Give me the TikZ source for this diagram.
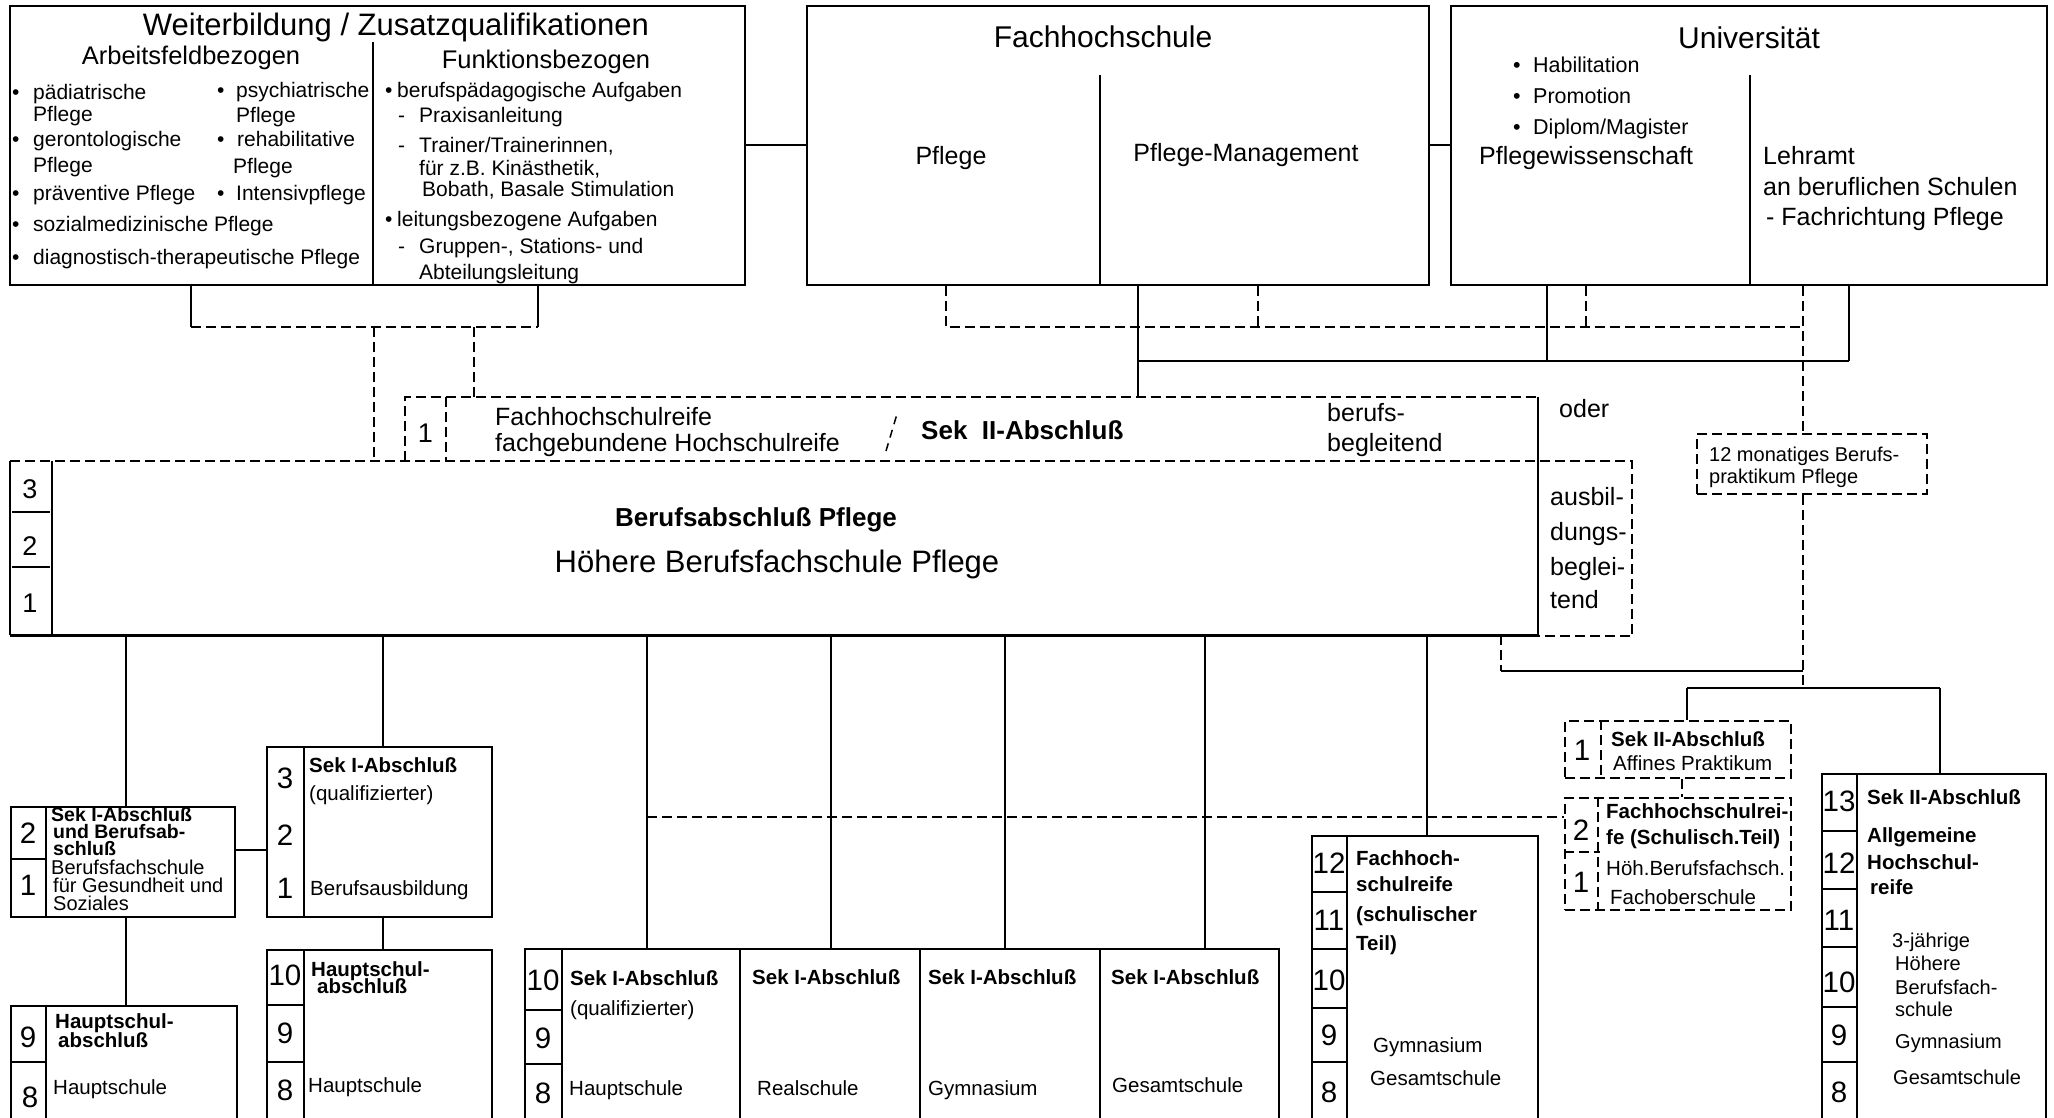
\documentclass[tikz,border=0pt]{standalone}
\usepackage{fontspec}
\setmainfont{Liberation Sans}
\usetikzlibrary{calc}
\newcommand\fs[1]{\fontsize{#1}{#1}\selectfont}
\newcommand\bul[1]{\makebox[#1][l]{•}}
\begin{document}
\begin{tikzpicture}[x=1pt,y=-1pt,
  ln/.style={line width=2pt},
  dln/.style={line width=2pt, dash pattern=on 10pt off 5pt},
  bx/.style={draw, line width=2pt, inner sep=0pt, anchor=north west},
  dbx/.style={bx, dash pattern=on 10pt off 5pt},
  area/.style={inner sep=0pt, anchor=north west},
  tw/.style={inner sep=0pt, anchor=base west, font=\fs{#1}, yshift={-0.358*#1}},
  bw/.style={inner sep=0pt, anchor=base west, font=\bfseries\fs{#1}, yshift={-0.358*#1}},
  tc/.style={inner sep=0pt, anchor=base, font=\fs{#1}, yshift={-0.358*#1}},
  bc/.style={inner sep=0pt, anchor=base, font=\bfseries\fs{#1}, yshift={-0.358*#1}},
  it/.style={tw=21},
  big/.style={tw=25},
  lt/.style={tw=20.5},
  lb/.style={bw=20.5},
  yr/.style={tc=29.5},
  yrs/.style={tc=27}]
\useasboundingbox (0,0) rectangle (2054,1118);
\clip (0,0) rectangle (2054,1118);
\fill[white] (0,0) rectangle (2054,1118);

% ---------- top boxes
\node[bx, minimum width=735pt, minimum height=279pt] (wb) at (9,5) {};
\node[bx, minimum width=622pt, minimum height=279pt] (fh) at (806,5) {};
\node[bx, minimum width=596pt, minimum height=279pt] (uni) at (1450,5) {};
\draw[ln] (373,42) -- (373,284);
\draw[ln] (1100,75) -- (1100,284);
\draw[ln] (1750,75) -- (1750,284);

\node[tc=31] (wbT) at (396,24) {Weiterbildung / Zusatzqualifikationen};
\node[tc=25.5] (wbA) at (191,55) {Arbeitsfeldbezogen};
\node[tc=25.5] (wbF) at (546,59) {Funktionsbezogen};

\node[it] (a1) at (12,92) {\bul{21pt}pädiatrische};
\node[it] (a1b) at (33,114) {Pflege};
\node[it] (a2) at (12,139) {\bul{21pt}gerontologische};
\node[it] (a2b) at (33,165) {Pflege};
\node[it] (a3) at (12,193) {\bul{21pt}präventive Pflege};
\node[it] (a4) at (12,224) {\bul{21pt}sozialmedizinische Pflege};
\node[it] (a5) at (12,257) {\bul{21pt}diagnostisch-therapeutische Pflege};
\node[it] (b1) at (217,90) {\bul{19pt}psychiatrische};
\node[it] (b1b) at (236,115) {Pflege};
\node[it] (b2) at (217,139) {\bul{20pt}rehabilitative};
\node[it] (b2b) at (233,166) {Pflege};
\node[it] (b3) at (217,193) {\bul{19pt}Intensivpflege};

\node[it] (c1) at (385,90) {\bul{12pt}berufspädagogische Aufgaben};
\node[it] (c2) at (398,115) {\makebox[21pt][l]{-}Praxisanleitung};
\node[it] (c3) at (398,145) {\makebox[21pt][l]{-}Trainer/Trainerinnen,};
\node[it] (c4) at (419,168) {für z.B. Kinästhetik,};
\node[it] (c5) at (422,189) {Bobath, Basale Stimulation};
\node[it] (c6) at (385,219) {\bul{12pt}leitungsbezogene Aufgaben};
\node[it] (c7) at (398,246) {\makebox[21pt][l]{-}Gruppen-, Stations- und};
\node[it] (c8) at (419,272) {Abteilungsleitung};

\node[tc=30] (fhT) at (1103,37) {Fachhochschule};
\node[tc=25] (fhP) at (951,156) {Pflege};
\node[tc=25] (fhM) at (1246,153) {Pflege-Management};

\node[tc=30] (uniT) at (1749,38) {Universität};
\node[tw=21.5] (u1) at (1513,65) {\bul{20pt}Habilitation};
\node[tw=21.5] (u2) at (1513,96) {\bul{20pt}Promotion};
\node[tw=21.5] (u3) at (1513,127) {\bul{20pt}Diplom/Magister};
\node[big] (u4) at (1479,156) {Pflegewissenschaft};
\node[big] (u5) at (1763,156) {Lehramt};
\node[big] (u6) at (1763,187) {an beruflichen Schulen};
\node[big] (u7) at (1766,217) {- Fachrichtung Pflege};

% ---------- Sek II box
\node[area, minimum width=1133pt, minimum height=64pt] (s2) at (405,397) {};
\draw[dln] (s2.south west) -- (s2.north west) -- (s2.north east);
\draw[dln] (446,397) -- (446,461);
\node[yrs] (s2n) at (425.5,433) {1};
\node[big] (s2a) at (495,417) {Fachhochschulreife};
\node[big] (s2b) at (495,443) {fachgebundene Hochschulreife};
\draw[line width=1.5pt, dash pattern=on 8pt off 6pt] (886,451) -- (897,414);
\node[bw=26] (s2c) at (921,430) {Sek\ \ II-Abschluß};
\node[big] (s2d) at (1327,413) {berufs-};
\node[big] (s2e) at (1327,443) {begleitend};
\node[big] (oder) at (1559,409) {oder};

% ---------- main box
\node[area, minimum width=1528pt, minimum height=174pt] (mb) at (10,461) {};
\node[area, minimum width=94pt, minimum height=175pt] (ad) at (1538,461) {};
\draw[dln] (mb.north west) -- (ad.north east) -- (ad.south east) -- (ad.south west);
\draw[ln] (mb.north west) -- (mb.south west);
\draw[line width=3pt] (mb.south west) -- (mb.south east);
\draw[ln] (s2.north east) -- (mb.south east);
\draw[ln] (52,461) -- (52,635);
\draw[ln] (12,512) -- (50,512);
\draw[ln] (12,567) -- (50,567);
\node[yrs] (m3) at (30,489) {3};
\node[yrs] (m2) at (30,546) {2};
\node[yrs] (m1) at (30,603) {1};
\node[bc=26] (mbA) at (756,517) {Berufsabschluß Pflege};
\node[tc=31] (mbB) at (777,561) {Höhere Berufsfachschule Pflege};
\node[big] (ad1) at (1550,497) {ausbil-};
\node[big] (ad2) at (1550,532) {dungs-};
\node[big] (ad3) at (1550,567) {beglei-};
\node[big] (ad4) at (1550,600) {tend};

\node[dbx, minimum width=230pt, minimum height=60pt] (pk) at (1696,433) {};
\node[tw=20] (pk1) at (1709,454) {12 monatiges Berufs-};
\node[tw=20] (pk2) at (1709,476) {praktikum Pflege};

% ---------- lower boxes
% A
\node[bx, minimum width=224pt, minimum height=110pt] (aa) at (10,806) {};
\draw[ln] (46,806) -- (46,916);
\draw[ln] (10,859) -- (46,859);
\node[yr] (aa2) at (28,833) {2};
\node[yr] (aa1) at (28,885) {1};
\node[bw=19.5] (aat1) at (51,815) {Sek I-Abschluß};
\node[bw=19.5] (aat2) at (53,832) {und Berufsab-};
\node[bw=19.5] (aat3) at (53,849) {schluß};
\node[tw=20] (aat4) at (51,867) {Berufsfachschule};
\node[tw=20] (aat5) at (53,885) {für Gesundheit und};
\node[tw=20] (aat6) at (53,903) {Soziales};
% B
\node[bx, minimum width=225pt, minimum height=170pt] (bb) at (266,746) {};
\draw[ln] (304,746) -- (304,916);
\node[yr] (bb3) at (285,778) {3};
\node[yr] (bb2) at (285,835) {2};
\node[yr] (bb1) at (285,888) {1};
\node[lb] (bbt1) at (309,765) {Sek I-Abschluß};
\node[lt] (bbt2) at (309,793) {(qualifizierter)};
\node[lt] (bbt3) at (310,888) {Berufsausbildung};
% C
\node[bx, minimum width=226pt, minimum height=135pt] (cc) at (10,1005) {};
\draw[ln] (46,1005) -- (46,1140);
\draw[ln] (10,1062) -- (46,1062);
\node[yr] (cc9) at (28,1037) {9};
\node[yr] (cc8) at (30,1097) {8};
\node[lb] (cct1) at (55,1021) {Hauptschul-};
\node[lb] (cct2) at (58,1040) {abschluß};
\node[lt] (cct3) at (53,1087) {Hauptschule};
% D
\node[bx, minimum width=225pt, minimum height=190pt] (dd) at (266,949) {};
\draw[ln] (304,949) -- (304,1140);
\draw[ln] (266,1005) -- (304,1005);
\draw[ln] (266,1062) -- (304,1062);
\node[yr] (dd10) at (285,975) {10};
\node[yr] (dd9) at (285,1033) {9};
\node[yr] (dd8) at (285,1090) {8};
\node[lb] (ddt1) at (311,969) {Hauptschul-};
\node[lb] (ddt2) at (317,986) {abschluß};
\node[lt] (ddt3) at (308,1085) {Hauptschule};
% E
\node[bx, minimum width=754pt, minimum height=190pt] (ee) at (524,948) {};
\foreach \xx in {562,740,920,1100} \draw[ln] (\xx,948) -- (\xx,1140);
\draw[ln] (524,1010) -- (562,1010);
\draw[ln] (524,1064) -- (562,1064);
\node[yr] (ee10) at (543,980) {10};
\node[yr] (ee9) at (543,1038) {9};
\node[yr] (ee8) at (543,1093) {8};
\node[lb] (eet1) at (570,978) {Sek I-Abschluß};
\node[lt] (eet2) at (570,1008) {(qualifizierter)};
\node[lt] (eet3) at (569,1088) {Hauptschule};
\node[lb] (eet4) at (752,977) {Sek I-Abschluß};
\node[lt] (eet5) at (757,1088) {Realschule};
\node[lb] (eet6) at (928,977) {Sek I-Abschluß};
\node[lt] (eet7) at (928,1088) {Gymnasium};
\node[lb] (eet8) at (1111,977) {Sek I-Abschluß};
\node[lt] (eet9) at (1112,1085) {Gesamtschule};
% F
\node[bx, minimum width=226pt, minimum height=300pt] (ff) at (1311,835) {};
\draw[ln] (1347,835) -- (1347,1140);
\foreach \yy in {892,949,1008,1062} \draw[ln] (1311,\yy) -- (1347,\yy);
\node[yr] (ff12) at (1329,863) {12};
\node[yr] (ff11) at (1329,920) {11};
\node[yr] (ff10) at (1329,980) {10};
\node[yr] (ff9) at (1329,1035) {9};
\node[yr] (ff8) at (1329,1092) {8};
\node[lb] (fft1) at (1356,858) {Fachhoch-};
\node[lb] (fft2) at (1356,884) {schulreife};
\node[lb] (fft3) at (1356,914) {(schulischer};
\node[lb] (fft4) at (1356,943) {Teil)};
\node[lt] (fft5) at (1373,1045) {Gymnasium};
\node[lt] (fft6) at (1370,1078) {Gesamtschule};
% G
\node[dbx, minimum width=226pt, minimum height=57pt] (gb) at (1564,720) {};
\draw[dln] (1601,720) -- (1601,777);
\node[yr] (gb1) at (1582,750) {1};
\node[lb] (gbt1) at (1611,739) {Sek II-Abschluß};
\node[lt] (gbt2) at (1613,763) {Affines Praktikum};
% H
\node[dbx, minimum width=226pt, minimum height=112pt] (hb) at (1564,797) {};
\draw[dln] (1598,797) -- (1598,909);
\draw[dln] (1564,852) -- (1600,852);
\node[yr] (hb2) at (1581,830) {2};
\node[yr] (hb1) at (1581,882) {1};
\node[lb] (hbt1) at (1606,811) {Fachhochschulrei-};
\node[lb] (hbt2) at (1606,837) {fe (Schulisch.Teil)};
\node[lt] (hbt3) at (1606,868) {Höh.Berufsfachsch.};
\node[lt] (hbt4) at (1610,897) {Fachoberschule};
% I
\node[bx, minimum width=224pt, minimum height=370pt] (ib) at (1821,773) {};
\draw[ln] (1857,773) -- (1857,1150);
\foreach \yy in {831,889,947,1007,1062} \draw[ln] (1821,\yy) -- (1857,\yy);
\node[yr] (ib13) at (1839,801) {13};
\node[yr] (ib12) at (1839,863) {12};
\node[yr] (ib11) at (1839,920) {11};
\node[yr] (ib10) at (1839,982) {10};
\node[yr] (ib9) at (1839,1035) {9};
\node[yr] (ib8) at (1839,1092) {8};
\node[lb] (ibt1) at (1867,797) {Sek II-Abschluß};
\node[lb] (ibt2) at (1867,835) {Allgemeine};
\node[lb] (ibt3) at (1867,862) {Hochschul-};
\node[lb] (ibt4) at (1870,887) {reife};
\node[tw=20] (ibt5) at (1892,940) {3-jährige};
\node[tw=20] (ibt6) at (1895,963) {Höhere};
\node[tw=20] (ibt7) at (1895,987) {Berufsfach-};
\node[tw=20] (ibt8) at (1895,1009) {schule};
\node[tw=20] (ibt9) at (1895,1041) {Gymnasium};
\node[tw=20] (ibt10) at (1893,1077) {Gesamtschule};

% ---------- connectors (top)
\draw[ln] (wb.east) -- (fh.west);
\draw[ln] (fh.east) -- (uni.west);
\coordinate (wL) at (191,327);
\coordinate (wR) at (538,327);
\coordinate (wA) at (374,327);
\coordinate (wB) at (474,327);
\draw[ln] (wb.south -| wL) -- (wL);
\draw[ln] (wb.south -| wR) -- (wR);
\draw[dln] (wL) -- (wR);
\draw[dln] (wA) -- (wA |- mb.north);
\draw[dln] (wB) -- (wB |- s2.north);

\coordinate (fL) at (946,327);
\coordinate (fR) at (1258,327);
\coordinate (uD) at (1586,327);
\coordinate (uE) at (1803,327);
\draw[dln] (fh.south -| fL) -- (fL) -- (uE);
\draw[dln] (fh.south -| fR) -- (fR);
\draw[dln] (uni.south -| uD) -- (uD);
\draw[dln] (uni.south -| uE) -- (uE |- pk.north);
\coordinate (sA) at (1138,361);
\coordinate (sB) at (1547,361);
\coordinate (sC) at (1849,361);
\draw[ln] (fh.south -| sA) -- (sA |- s2.north);
\draw[ln] (sA) -- (sC);
\draw[ln] (uni.south -| sB) -- (sB);
\draw[ln] (uni.south -| sC) -- (sC);

% ---------- connectors (right, lower)
\coordinate (kL) at (1501,671);
\coordinate (kR) at (1803,671);
\draw[dln] (mb.south -| kL) -- (kL);
\draw[ln] (kL) -- (kR);
\coordinate (jL) at (1687,688);
\coordinate (jR) at (1940,688);
\coordinate (jM) at (1803,688);
\draw[dln] (pk.south -| jM) -- (jM);
\draw[ln] (jL) -- (jR);
\draw[ln] (jL) -- (jL |- gb.north);
\draw[ln] (jR) -- (jR |- ib.north);
\coordinate (gh) at (1682,780);
\draw[dln] (gb.south -| gh) -- (hb.north -| gh);

% ---------- connectors (main box down)
\coordinate (v1) at (126,700);
\coordinate (v2) at (383,700);
\coordinate (v3) at (647,700);
\coordinate (v4) at (831,700);
\coordinate (v5) at (1005,700);
\coordinate (v6) at (1205,700);
\coordinate (v7) at (1427,700);
\draw[ln] (mb.south -| v1) -- (aa.north -| v1);
\draw[ln] (aa.south -| v1) -- (cc.north -| v1);
\draw[ln] (mb.south -| v2) -- (bb.north -| v2);
\draw[ln] (bb.south -| v2) -- (dd.north -| v2);
\draw[ln] (mb.south -| v3) -- (ee.north -| v3);
\draw[ln] (mb.south -| v4) -- (ee.north -| v4);
\draw[ln] (mb.south -| v5) -- (ee.north -| v5);
\draw[ln] (mb.south -| v6) -- (ee.north -| v6);
\draw[ln] (mb.south -| v7) -- (ff.north -| v7);
\coordinate (hL) at (647,817);
\draw[dln] (hL) -- (hL -| hb.west);
\coordinate (abc) at (250,850);
\draw[ln] (abc -| aa.east) -- (abc -| bb.west);
\end{tikzpicture}
\end{document}
